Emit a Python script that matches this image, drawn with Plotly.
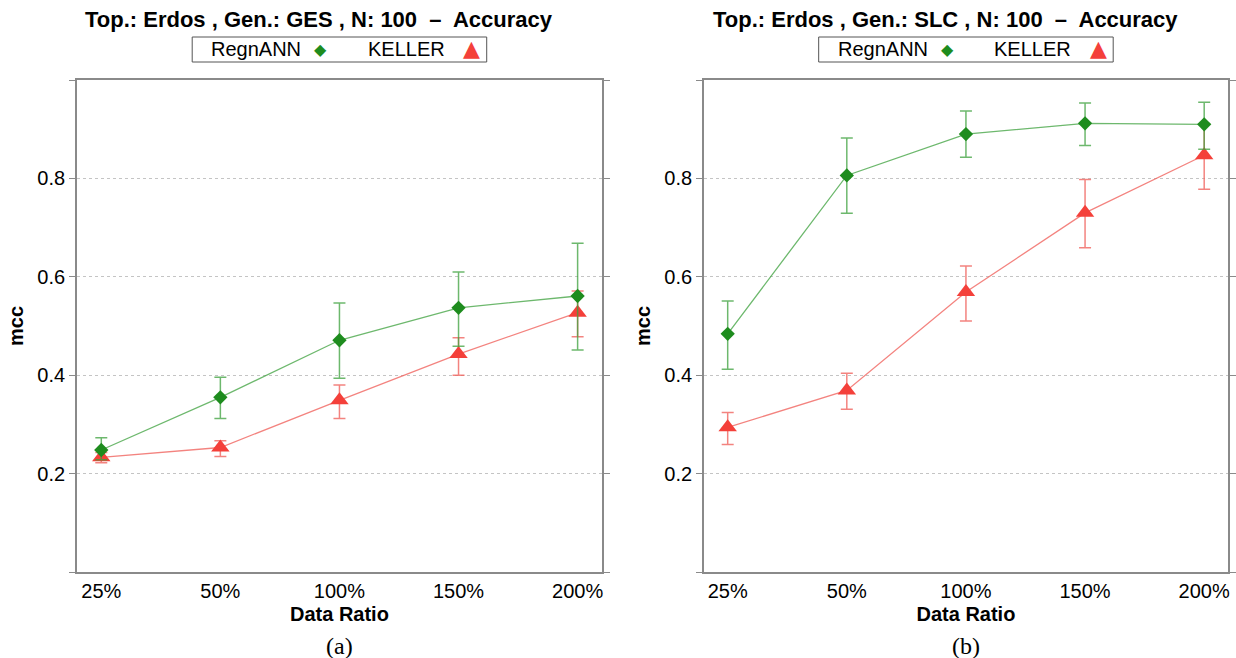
import plotly.graph_objects as go

# page body margin is removed via post_script, so the figure fills the window
OFF = 0
W, H = 1236, 658


def px(x):
    return (x - OFF) / W


def py(y):
    return 1 - (y - OFF) / H


categories = ["25%", "50%", "100%", "150%", "200%"]

# Panel (a): Gen. GES
ges_regnann = [0.248, 0.355, 0.471, 0.537, 0.561]
ges_regnann_hi = [0.273, 0.396, 0.547, 0.610, 0.668]
ges_regnann_lo = [0.228, 0.312, 0.394, 0.459, 0.451]
ges_keller = [0.233, 0.253, 0.349, 0.443, 0.527]
ges_keller_hi = [0.243, 0.267, 0.380, 0.476, 0.571]
ges_keller_lo = [0.222, 0.235, 0.312, 0.400, 0.478]

# Panel (b): Gen. SLC
slc_regnann = [0.484, 0.806, 0.890, 0.912, 0.910]
slc_regnann_hi = [0.551, 0.882, 0.937, 0.953, 0.955]
slc_regnann_lo = [0.412, 0.729, 0.843, 0.867, 0.859]
slc_keller = [0.294, 0.369, 0.569, 0.730, 0.847]
slc_keller_hi = [0.324, 0.404, 0.622, 0.798, 0.910]
slc_keller_lo = [0.259, 0.331, 0.510, 0.659, 0.778]

titles = ["Top.: Erdos , Gen.: GES , N: 100  \u2013  Accuracy",
          "Top.: Erdos , Gen.: SLC , N: 100  \u2013  Accuracy"]
captions = ["(a)", "(b)"]
series_names = ["RegnANN", "KELLER"]
yticks = [0.0, 0.2, 0.4, 0.6, 0.8, 1.0]
yticktext = ["", "0.2", "0.4", "0.6", "0.8", ""]

GREEN_M = "#1e8c1e"
GREEN_L = "rgba(60,160,60,0.75)"
RED_M = "#f4403a"
RED_L = "rgba(240,100,95,0.8)"
FRAME = "#8a8a8a"
FONT = "Liberation Sans"

# panel geometry in pixels (window coordinates)
panels = [dict(x0=77, x1=603, xr=[-0.205, 4.205]),
          dict(x0=705, x1=1230, xr=[-0.2, 4.2])]
y_top, y_bot = 80, 572

fig = go.Figure()

data = [
    (ges_regnann, ges_regnann_hi, ges_regnann_lo, ges_keller, ges_keller_hi, ges_keller_lo),
    (slc_regnann, slc_regnann_hi, slc_regnann_lo, slc_keller, slc_keller_hi, slc_keller_lo),
]

for i, (rv, rh, rl, kv, kh, kl) in enumerate(data):
    xa = "x" if i == 0 else "x2"
    ya = "y" if i == 0 else "y2"
    fig.add_trace(go.Scatter(
        x=categories, y=kv, xaxis=xa, yaxis=ya, mode="lines+markers",
        name=series_names[1],
        line=dict(color=RED_L, width=1.3),
        marker=dict(symbol="triangle-up", size=16, color=RED_M),
        error_y=dict(type="data", symmetric=False,
                     array=[h - v for h, v in zip(kh, kv)],
                     arrayminus=[v - l for v, l in zip(kv, kl)],
                     color=RED_L, thickness=1.5, width=6),
        showlegend=False))
    fig.add_trace(go.Scatter(
        x=categories, y=rv, xaxis=xa, yaxis=ya, mode="lines+markers",
        name=series_names[0],
        line=dict(color=GREEN_L, width=1.3),
        marker=dict(symbol="diamond", size=11, color=GREEN_M),
        error_y=dict(type="data", symmetric=False,
                     array=[h - v for h, v in zip(rh, rv)],
                     arrayminus=[v - l for v, l in zip(rv, rl)],
                     color=GREEN_L, thickness=1.5, width=6),
        showlegend=False))

layout = dict(
    width=W, height=H, margin=dict(l=0, r=0, t=0, b=0),
    paper_bgcolor="white", plot_bgcolor="white",
    font=dict(family=FONT, color="black", size=20),
)
annotations = []
shapes = []
for i, p in enumerate(panels):
    sfx = "" if i == 0 else "2"
    dom_x = [px(p["x0"]), px(p["x1"])]
    dom_y = [py(y_bot), py(y_top)]
    layout["xaxis" + sfx] = dict(
        domain=dom_x, range=p["xr"], type="category",
        showgrid=False, zeroline=False, showline=True, mirror=True,
        linecolor=FRAME, linewidth=1.5, ticks="", tickfont=dict(size=20),
        anchor="y" + sfx,
        title=dict(text="<b>Data Ratio</b>", font=dict(size=20), standoff=6))
    layout["yaxis" + sfx] = dict(
        domain=dom_y, range=[0, 1.0], tickvals=yticks, ticktext=yticktext,
        showgrid=True, gridcolor="#c4c4c4", griddash="dot", gridwidth=1,
        zeroline=False, showline=True, mirror="ticks",
        linecolor=FRAME, linewidth=1.5, ticks="outside", ticklen=6,
        tickcolor=FRAME, tickfont=dict(size=20), anchor="x" + sfx,
        title=dict(text="<b>mcc</b>", font=dict(size=20), standoff=8))
    cx = (p["x0"] + p["x1"]) / 2
    # title
    annotations.append(dict(
        x=px(cx - 20), y=py(20), xref="paper", yref="paper", showarrow=False,
        text="<b>" + titles[i] + "</b>", font=dict(size=22, family=FONT),
        xanchor="center", yanchor="middle"))
    # legend box
    shapes.append(dict(type="rect", xref="paper", yref="paper",
                       x0=px(cx - 147.5), x1=px(cx + 147.5),
                       y0=py(62), y1=py(37),
                       line=dict(color="#555555", width=1), fillcolor="white"))
    annotations.append(dict(
        x=px(cx - 130.5), y=py(49.5), xref="paper", yref="paper", showarrow=False,
        text=series_names[0], font=dict(size=20, family=FONT),
        xanchor="left", yanchor="middle"))
    annotations.append(dict(
        x=px(cx - 18.5), y=py(49.5), xref="paper", yref="paper", showarrow=False,
        text="\u25C6", font=dict(size=16, family="DejaVu Sans", color=GREEN_M),
        xanchor="center", yanchor="middle"))
    annotations.append(dict(
        x=px(cx + 26.5), y=py(49.5), xref="paper", yref="paper", showarrow=False,
        text=series_names[1], font=dict(size=20, family=FONT),
        xanchor="left", yanchor="middle"))
    annotations.append(dict(
        x=px(cx + 132.5), y=py(48), xref="paper", yref="paper", showarrow=False,
        text="\u25B2", font=dict(size=22, family="DejaVu Sans", color=RED_M),
        xanchor="center", yanchor="middle"))
    # caption
    annotations.append(dict(
        x=px(cx), y=py(646), xref="paper", yref="paper", showarrow=False,
        text=captions[i], font=dict(size=24, family="Liberation Serif"),
        xanchor="center", yanchor="middle"))
layout["annotations"] = annotations
layout["shapes"] = shapes
fig.update_layout(**layout)

fig.write_html(
    "out.html",
    config={"displayModeBar": False},
    post_script="document.body.style.margin='0';"
                "document.body.style.overflow='hidden';",
)
